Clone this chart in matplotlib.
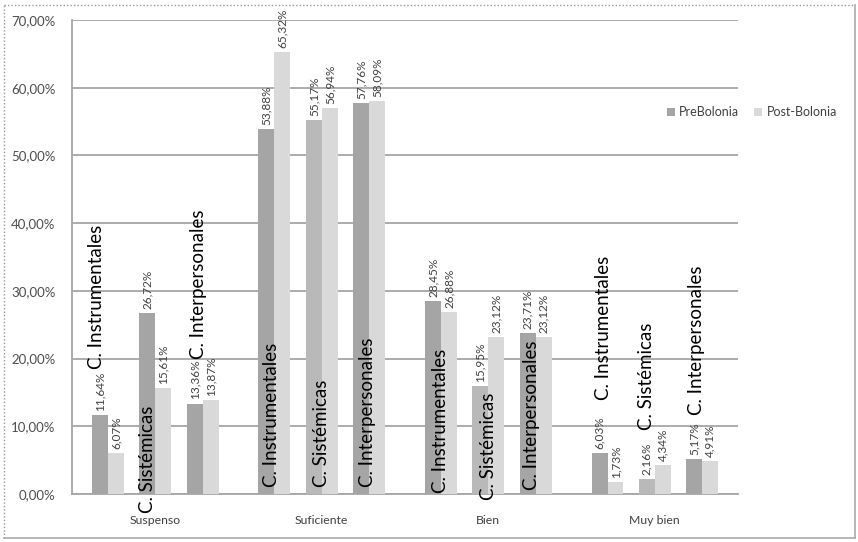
import numpy as np
import matplotlib
matplotlib.use('Agg')
import matplotlib.pyplot as plt
from matplotlib.lines import Line2D
from matplotlib.patches import Patch

plt.rcParams['font.family'] = ['Lato', 'DejaVu Sans']

CATEGORIES = ['Suspenso', 'Suficiente', 'Bien', 'Muy bien']
GROUPS = ['C. Instrumentales', 'C. Sistémicas', 'C. Interpersonales']
PRE_BOLONIA = [
    [11.64, 26.72, 13.36],
    [53.88, 55.17, 57.76],
    [28.45, 15.95, 23.71],
    [6.03, 2.16, 5.17],
]
POST_BOLONIA = [
    [6.07, 15.61, 13.87],
    [65.32, 56.94, 58.09],
    [26.88, 23.12, 23.12],
    [1.73, 4.34, 4.91],
]
SERIES = ['PreBolonia', 'Post-Bolonia']

# layout: where each group name sits (x offset from category centre, y start in %)
LABEL_DX = [
    [-0.350, -0.045, 0.262],
    [-0.302, -0.003, 0.272],
    [-0.284, 0.003, 0.260],
    [-0.308, -0.051, 0.250],
]
LABEL_Y = [
    [18.4, -2.8, 20.0],
    [1.0, 1.0, 1.0],
    [0.15, -0.9, 0.6],
    [13.9, 9.5, 11.6],
]

PRE_DARK = '#a5a5a5'
PRE_LIGHT = '#b9b9b9'
POST = '#d9d9d9'
GRID = '#a6a6a6'
TXT = '#404040'
TICK = '#4d4d4d'

GROUP_STEP = 0.284
BAR_W = 0.096


def fmt(v):
    return f'{v:.2f}'.replace('.', ',') + '%'


fig = plt.figure(figsize=(8.58, 5.42), dpi=100)
fig.patch.set_facecolor('white')
ax = fig.add_axes([0.0839, 0.0886, 0.7763, 0.8745])

for ci, cat in enumerate(CATEGORIES):
    centre = ci + 0.5
    for gi, grp in enumerate(GROUPS):
        gx = centre + (gi - 1) * GROUP_STEP
        pre_v = PRE_BOLONIA[ci][gi]
        post_v = POST_BOLONIA[ci][gi]
        pre_c = PRE_LIGHT if (gi == 1 and ci > 0) else PRE_DARK
        ax.bar(gx - BAR_W / 2, pre_v, BAR_W, color=pre_c, zorder=3)
        ax.bar(gx + BAR_W / 2, post_v, BAR_W, color=POST, zorder=3)
        ax.text(gx - BAR_W / 2, pre_v + 0.6, fmt(pre_v), rotation=90,
                ha='center', va='bottom', fontsize=8.5, color=TXT, zorder=4)
        ax.text(gx + BAR_W / 2, post_v + 0.6, fmt(post_v), rotation=90,
                ha='center', va='bottom', fontsize=8.5, color=TXT, zorder=4)
        ax.text(centre + LABEL_DX[ci][gi], LABEL_Y[ci][gi], grp, rotation=90,
                ha='center', va='bottom', fontsize=13.5, color='black', zorder=5)

ax.set_xlim(0, 4)
ax.set_ylim(0, 70)
ax.set_xticks(np.arange(len(CATEGORIES)) + 0.5)
ax.set_xticklabels(CATEGORIES, fontsize=8.8, color=TXT)
ax.set_yticks(np.arange(0, 71, 10))
ax.set_yticklabels([f'{v:.2f}'.replace('.', ',') + '%' for v in np.arange(0, 71, 10)],
                   fontsize=9.5, color=TICK)
ax.tick_params(axis='y', length=0, pad=12)
ax.tick_params(axis='x', length=0, pad=15)
ax.yaxis.grid(True, color=GRID, linewidth=1.3, zorder=0)
ax.set_axisbelow(True)
for side in ['top', 'right']:
    ax.spines[side].set_visible(False)
for side in ['left', 'bottom']:
    ax.spines[side].set_color(GRID)
    ax.spines[side].set_linewidth(1.3)

handles = [Patch(facecolor=PRE_DARK, label=SERIES[0]),
           Patch(facecolor=POST, label=SERIES[1])]
fig.legend(handles=handles, loc='center left', bbox_to_anchor=(0.777, 0.793),
           ncol=2, frameon=False, fontsize=9, handlelength=0.65, handleheight=0.65,
           handletextpad=0.35, columnspacing=1.2, labelcolor=TXT, borderaxespad=0,
           borderpad=0)

# outer chart border
fig.add_artist(Line2D([0.005, 0.005], [0.008, 0.99], color='#999999', lw=1,
                      linestyle=(0, (1, 1.5))))
fig.add_artist(Line2D([0.005, 0.996], [0.99, 0.99], color='#999999', lw=1,
                      linestyle=(0, (1, 1.5))))
fig.add_artist(Line2D([0.996, 0.996], [0.008, 0.99], color='#aaaaaa', lw=1.2))
fig.add_artist(Line2D([0.005, 0.996], [0.008, 0.008], color='#aaaaaa', lw=1.2))

fig.savefig('out.png', dpi=100, facecolor='white')
